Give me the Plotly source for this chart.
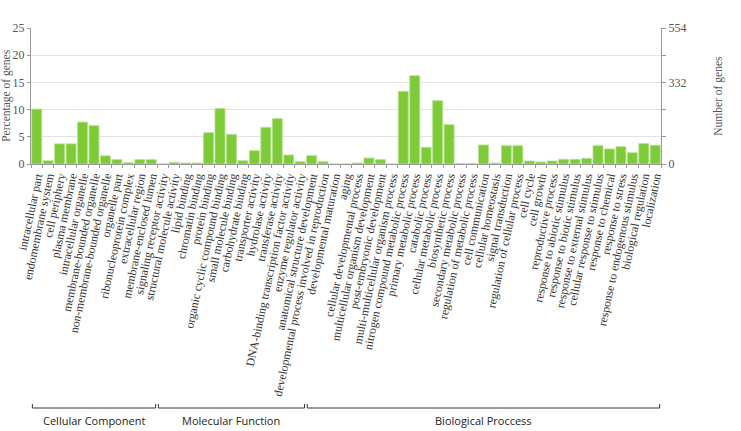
import plotly.graph_objects as go

categories = [
    "intracellular part", "endomembrane system", "cell periphery", "plasma membrane",
    "intracellular organelle", "membrane-bounded organelle", "non-membrane-bounded organelle",
    "organelle part", "ribonucleoprotein complex", "extracellular region", "membrane-enclosed lumen",
    "signaling receptor activity", "structural molecule activity", "lipid binding", "chromatin binding",
    "protein binding", "organic cyclic compound binding", "small molecule binding", "carbohydrate binding",
    "transporter activity", "hydrolase activity", "transferase activity",
    "DNA-binding transcription factor activity", "enzyme regulator activity",
    "anatomical structure development", "developmental process involved in reproduction",
    "developmental maturation", "aging", "cellular developmental process",
    "multicellular organism development", "post-embryonic development",
    "multi-multicellular organism process", "nitrogen compound metabolic process",
    "primary metabolic process", "catabolic process", "cellular metabolic process",
    "biosynthetic process", "secondary metabolic process", "regulation of metabolic process",
    "cell communication", "cellular homeostasis", "signal transduction",
    "regulation of cellular process", "cell cycle", "cell growth", "reproductive process",
    "response to abiotic stimulus", "response to biotic stimulus", "response to external stimulus",
    "cellular response to stimulus", "response to chemical", "response to stress",
    "response to endogenous stimulus", "biological regulation", "localization",
]

percent = [
    10.1, 0.6, 3.7, 3.7, 7.7, 7.05, 1.5, 0.8, 0.25, 0.8, 0.8,
    0.0, 0.3, 0.18, 0.18, 5.76, 10.2, 5.45, 0.6, 2.45, 6.74, 8.33, 1.65, 0.43,
    1.53, 0.43, 0.0, 0.0, 0.18, 1.1, 0.8, 0.0, 13.36, 16.24, 3.06, 11.64, 7.23,
    0.06, 0.06, 3.5, 0.18, 3.37, 3.37, 0.55, 0.37, 0.55, 0.86, 0.86, 1.04,
    3.37, 2.76, 3.19, 2.08, 3.74, 3.43,
]

groups = ["Cellular Component", "Molecular Function", "Biological Proccess"]
group_sizes = [11, 13, 31]

left_ticks = [0, 5, 10, 15, 20, 25]
right_max = 554
right_labels = {0: "0", 15: "332", 25: "554"}

green = "#7CCB37"
serif = "Liberation Serif"
counts = [p * right_max / 25 for p in percent]

fig = go.Figure()
fig.add_trace(go.Bar(
    x=categories, y=percent,
    marker=dict(color=green, line=dict(color="#B5E08F", width=0.8)),
    hoverinfo="x+y",
))
fig.add_trace(go.Scatter(
    x=categories, y=counts, yaxis="y2", mode="markers",
    marker=dict(opacity=0), hoverinfo="skip", showlegend=False,
))

r2_vals = [t * right_max / 25 for t in left_ticks]
r2_text = [right_labels.get(t, "") for t in left_ticks]

fig.update_layout(
    width=741, height=431,
    margin=dict(l=31, r=80, t=28, b=267),
    paper_bgcolor="white", plot_bgcolor="white",
    showlegend=False, bargap=0.13,
    font=dict(family=serif, color="#444"),
    xaxis=dict(
        type="category", tickangle=-78, tickmode="linear", dtick=1, tick0=0,
        tickfont=dict(family=serif, size=11.8, color="#333"),
        showline=True, linecolor="#999", linewidth=1,
        ticks="outside", tickson="boundaries", ticklen=3, tickcolor="#999",
        showgrid=False, range=[-0.5, len(categories) - 0.5],
    ),
    yaxis=dict(
        range=[0, 25], tickvals=left_ticks,
        tickfont=dict(family=serif, size=12, color="#555"),
        showline=True, linecolor="#999", linewidth=1, mirror=True,
        ticks="outside", ticklen=3, tickcolor="#999",
        showgrid=True, gridcolor="#e3e3e3", gridwidth=1, zeroline=False,
    ),
    yaxis2=dict(
        overlaying="y", side="right", range=[0, right_max],
        tickvals=r2_vals, ticktext=r2_text,
        tickfont=dict(family=serif, size=12, color="#555"),
        showline=True, linecolor="#999", linewidth=1,
        ticks="outside", ticklen=4, tickcolor="#999",
        showgrid=False, zeroline=False,
    ),
)

fig.add_annotation(
    text="Percentage of genes", xref="paper", yref="paper",
    x=-0.040, y=0.5, xanchor="center", yanchor="middle", textangle=-90,
    showarrow=False, font=dict(family=serif, size=11.5, color="#555"),
)
fig.add_annotation(
    text="Number of genes", xref="paper", yref="paper",
    x=1.09, y=0.5, xanchor="center", yanchor="middle", textangle=-90,
    showarrow=False, font=dict(family=serif, size=11.5, color="#555"),
)

# group brackets (paper y: plot spans 136 px, bottom at 0)
y_line = -(408 - 164) / 136
y_tip = -(404 - 164) / 136
start = 0
for name, n in zip(groups, group_sizes):
    x0 = start - 0.5 + 0.12
    x1 = start + n - 0.5 - 0.12
    for (xa, ya, xb, yb) in [(x0, y_line, x1, y_line), (x0, y_line, x0, y_tip), (x1, y_line, x1, y_tip)]:
        fig.add_shape(type="line", xref="x", yref="paper", x0=xa, y0=ya, x1=xb, y1=yb,
                      line=dict(color="#333", width=1))
    fig.add_annotation(
        text=name, xref="x", yref="paper", x=(x0 + x1) / 2, y=y_line - 0.02,
        xanchor="center", yanchor="top", showarrow=False,
        font=dict(family="Open Sans", size=11, color="#222"),
    )
    start += n

fig.write_html("out.html")
